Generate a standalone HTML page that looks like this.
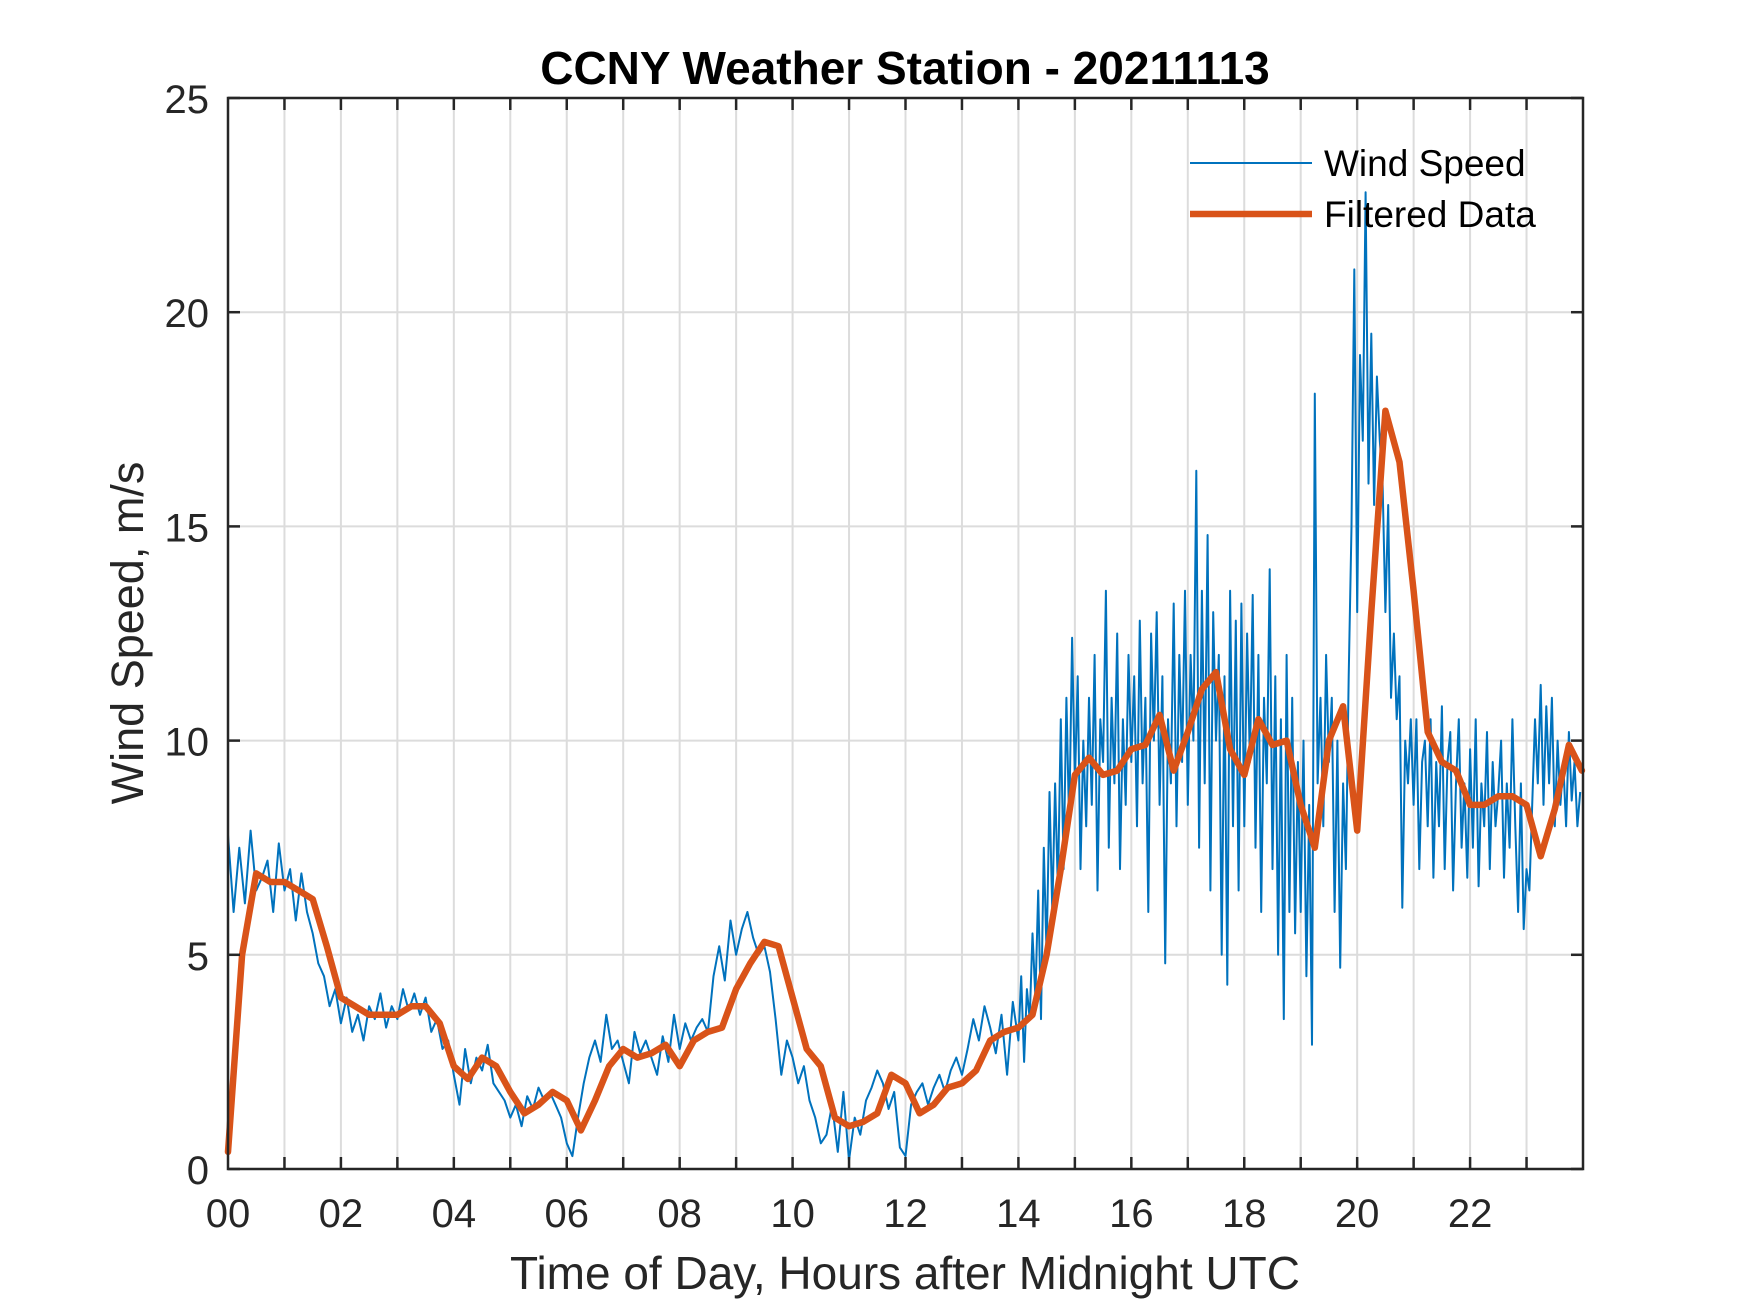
<!DOCTYPE html>
<html><head><meta charset="utf-8"><style>
body{margin:0;background:#fff}
svg{display:block;font-family:"Liberation Sans",Arial,sans-serif}
</style></head><body>
<svg id="chart" width="1750" height="1313" viewBox="0 0 1750 1313" xmlns="http://www.w3.org/2000/svg">
<rect width="1750" height="1313" fill="#fff"/>
<g id="grid"></g>
<g id="series"></g>
<g id="axes"></g>
<text x="905" y="84" text-anchor="middle" font-size="46" font-weight="bold" fill="#000">CCNY Weather Station - 20211113</text>
<text x="905" y="1289" text-anchor="middle" font-size="46" fill="#262626">Time of Day, Hours after Midnight UTC</text>
<text transform="translate(143,633) rotate(-90)" text-anchor="middle" font-size="45" fill="#262626">Wind Speed, m/s</text>
<g>
<line x1="1190" y1="163" x2="1312" y2="163" stroke="#0072BD" stroke-width="2"/>
<text x="1324" y="176" font-size="37" fill="#000">Wind Speed</text>
<line x1="1190" y1="214" x2="1312" y2="214" stroke="#D95319" stroke-width="6.5"/>
<text x="1324" y="227" font-size="37" fill="#000">Filtered Data</text>
</g>
</svg>
<script>
const xTickLabels=["00","02","04","06","08","10","12","14","16","18","20","22"];
const yTickLabels=["0","5","10","15","20","25"];
const windEarly=[7.8,6.0,7.5,6.2,7.9,6.5,6.8,7.2,6.0,7.6,
6.5,7.0,5.8,6.9,6.0,5.5,4.8,4.5,3.8,4.2,
3.4,4.0,3.2,3.6,3.0,3.8,3.5,4.1,3.3,3.8,
3.5,4.2,3.7,4.1,3.6,4.0,3.2,3.5,2.8,3.0,
2.2,1.5,2.8,2.0,2.6,2.3,2.9,2.0,1.8,1.6,
1.2,1.5,1.0,1.7,1.4,1.9,1.6,1.8,1.5,1.2,
0.6,0.3,1.2,2.0,2.6,3.0,2.5,3.6,2.8,3.0,
2.5,2.0,3.2,2.7,3.0,2.6,2.2,3.1,2.5,3.6,
2.8,3.4,3.0,3.3,3.5,3.2,4.5,5.2,4.4,5.8,
5.0,5.6,6.0,5.4,5.0,5.2,4.6,3.5,2.2,3.0,
2.6,2.0,2.4,1.6,1.2,0.6,0.8,1.5,0.4,1.8,
0.2,1.2,0.8,1.6,1.9,2.3,2.0,1.4,1.8,0.5,
0.3,1.5,1.8,2.0,1.5,1.9,2.2,1.8,2.3,2.6,
2.2,2.8,3.5,3.0,3.8,3.3,2.7,3.6,2.2,3.9];
const windLate=[3.0,4.5,2.5,4.2,3.5,5.5,4.0,6.5,3.5,7.5,5.0,8.8,6.0,9.0,6.5,10.5,7.0,11.0,8.0,12.4,
9.0,11.5,7.0,10.0,8.0,11.0,8.5,12.0,6.5,10.5,9.5,13.5,7.5,11.0,9.0,12.5,7.0,10.5,8.5,12.0,
9.5,11.5,8.0,12.8,9.0,11.0,6.0,12.5,10.0,13.0,8.5,11.5,4.8,10.5,9.0,13.2,8.0,12.0,9.5,13.5,
8.5,12.0,10.0,16.3,7.5,13.5,9.0,14.8,6.5,13.0,10.0,12.0,5.0,11.5,4.3,13.5,8.0,12.8,6.5,13.2,
8.0,12.5,9.5,13.4,7.5,12.0,6.0,11.0,9.0,14.0,7.0,11.5,5.0,10.5,3.5,12.0,6.0,11.0,5.5,9.5,
6.0,10.0,4.5,8.5,2.9,18.1,9.0,11.0,8.0,12.0,9.5,11.0,6.0,10.0,4.7,9.0,7.0,11.5,15.0,21.0,
13.0,19.0,17.0,22.8,16.0,19.5,15.5,18.5,17.0,16.0,13.0,15.5,11.0,12.5,10.5,11.5,6.1,10.0,9.0,10.5,
8.5,10.5,7.0,9.5,10.0,8.0,10.5,6.8,9.5,8.0,10.8,7.0,9.5,10.2,6.5,9.0,10.5,7.5,9.0,6.8,
9.8,7.5,10.5,6.6,9.0,8.0,10.2,7.0,9.5,8.0,8.8,10.0,6.8,9.0,7.5,10.5,8.0,6.0,9.0,5.6,
7.0,6.5,8.5,10.5,9.0,11.3,8.5,10.8,9.0,11.0,8.0,10.0,8.5,9.5,8.0,10.2,8.6,9.5,8.0,8.8];
const filtered=[0.4,5.0,6.9,6.7,6.7,6.5,6.3,5.2,4.0,3.8,3.6,3.6,3.6,3.8,3.8,3.4,
2.4,2.1,2.6,2.4,1.8,1.3,1.5,1.8,1.6,0.9,1.6,2.4,2.8,2.6,2.7,2.9,
2.4,3.0,3.2,3.3,4.2,4.8,5.3,5.2,4.0,2.8,2.4,1.2,1.0,1.1,1.3,2.2,
2.0,1.3,1.5,1.9,2.0,2.3,3.0,3.2,3.3,3.6,5.0,7.0,9.2,9.6,9.2,9.3,
9.8,9.9,10.6,9.3,10.2,11.2,11.6,9.8,9.2,10.5,9.9,10.0,8.5,7.5,10.0,10.8,
7.9,13.0,17.7,16.5,13.5,10.2,9.5,9.3,8.5,8.5,8.7,8.7,8.5,7.3,8.4,9.9,9.3];

const L=228,R=1583,T=98,B=1169,X0=0,X1=24,Y0=0,Y1=25;
const xs=v=>L+(v-X0)/(X1-X0)*(R-L);
const ys=v=>B-(v-Y0)/(Y1-Y0)*(B-T);
const NS="http://www.w3.org/2000/svg";
function mk(tag,attrs,parent){const e=document.createElementNS(NS,tag);for(const k in attrs)e.setAttribute(k,attrs[k]);parent.appendChild(e);return e;}
const grid=document.getElementById('grid'),axes=document.getElementById('axes'),series=document.getElementById('series');
for(let h=1;h<24;h++){const l=mk('line',{x1:xs(h),x2:xs(h),y1:T,y2:B,stroke:'#dcdcdc','stroke-width':2},grid);

}
for(let i=1;i<yTickLabels.length-1;i++){const v=+yTickLabels[i];const l=mk('line',{x1:L,x2:R,y1:ys(v),y2:ys(v),stroke:'#dcdcdc','stroke-width':2},grid);

}
let pts=[];
windEarly.forEach((v,i)=>pts.push(xs(i*0.1).toFixed(1)+','+ys(v).toFixed(1)));
windLate.forEach((v,i)=>pts.push(xs(14+i*0.05).toFixed(1)+','+ys(v).toFixed(1)));
const w=mk('polyline',{points:pts.join(' '),fill:'none',stroke:'#0072BD','stroke-width':2,'stroke-linejoin':'round'},series);


let fp=filtered.map((v,i)=>xs(Math.min(i*0.25,23.98)).toFixed(1)+','+ys(v).toFixed(1));
const f=mk('polyline',{points:fp.join(' '),fill:'none',stroke:'#D95319','stroke-width':6.5,'stroke-linejoin':'round','stroke-linecap':'round'},series);


const box=mk('rect',{x:L,y:T,width:R-L,height:B-T,fill:'none',stroke:'#262626','stroke-width':2.5},axes);


for(let h=1;h<24;h++){
 const a=mk('line',{x1:xs(h),x2:xs(h),y1:B,y2:B-12,stroke:'#262626','stroke-width':2.5},axes);
 
 
 const b=mk('line',{x1:xs(h),x2:xs(h),y1:T,y2:T+12,stroke:'#262626','stroke-width':2.5},axes);
 
 
}
xTickLabels.forEach((s,i)=>{const t=mk('text',{x:xs(i*2),y:1227,'text-anchor':'middle','font-size':40,fill:'#262626'},axes);t.textContent=s;
 
 });
yTickLabels.forEach(s=>{const v=+s;
 const a=mk('line',{x1:L,x2:L+12,y1:ys(v),y2:ys(v),stroke:'#262626','stroke-width':2.5},axes);
 
 
 const b=mk('line',{x1:R,x2:R-12,y1:ys(v),y2:ys(v),stroke:'#262626','stroke-width':2.5},axes);
 
 
 const t=mk('text',{x:209,y:ys(v)+15,'text-anchor':'end','font-size':40,fill:'#262626'},axes);t.textContent=s;
 
 });
</script>
</body></html>
